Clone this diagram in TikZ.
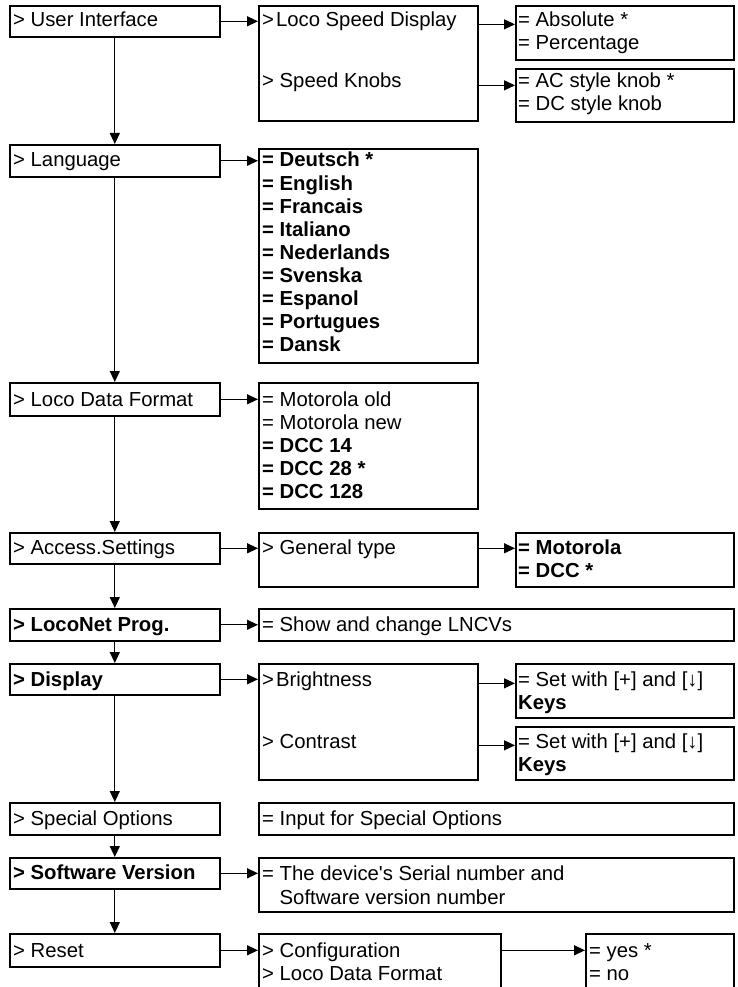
\documentclass[tikz,border=0pt]{standalone}
\usepackage{fontspec}
\setmainfont{Liberation Sans}
\usetikzlibrary{arrows.meta}
\tikzset{
  menu/.style={draw, rectangle, line width=1.6pt, anchor=north west, inner sep=0pt},
  item/.style={anchor=base west, inner sep=0pt, font=\fontsize{20.3}{23}\selectfont},
  bold/.style={font=\fontsize{20.3}{23}\selectfont\bfseries},
  goto/.style={line width=1.3pt, -{Triangle[length=11pt, width=10pt]}}
}
\begin{document}
\begin{tikzpicture}[x=1pt, y=-1pt]
\useasboundingbox (0,0) rectangle (738,987);
% main menu column
\node at (9,5) [menu, minimum width=210pt, minimum height=31pt] (ui) {};
\node at (9,144) [menu, minimum width=210pt, minimum height=32pt] (lang) {};
\node at (9,382) [menu, minimum width=210pt, minimum height=33pt] (ldf) {};
\node at (9,532) [menu, minimum width=210pt, minimum height=31pt] (acc) {};
\node at (9,608) [menu, minimum width=210pt, minimum height=32pt] (lnp) {};
\node at (9,663) [menu, minimum width=210pt, minimum height=31pt] (disp) {};
\node at (9,802) [menu, minimum width=210pt, minimum height=32pt] (spec) {};
\node at (9,857) [menu, minimum width=210pt, minimum height=31pt] (soft) {};
\node at (9,933) [menu, minimum width=210pt, minimum height=33pt] (reset) {};
% sub menus
\node at (258,5) [menu, minimum width=219pt, minimum height=115pt] (lsd) {};
\node at (258,148) [menu, minimum width=219pt, minimum height=214pt] (langlist) {};
\node at (258,382) [menu, minimum width=219pt, minimum height=126pt] (ldflist) {};
\node at (258,532) [menu, minimum width=219pt, minimum height=54pt] (gen) {};
\node at (258,608) [menu, minimum width=475pt, minimum height=32pt] (lncv) {};
\node at (258,663) [menu, minimum width=219pt, minimum height=116pt] (bright) {};
\node at (258,802) [menu, minimum width=475pt, minimum height=32pt] (specin) {};
\node at (258,857) [menu, minimum width=475pt, minimum height=54pt] (serial) {};
\node at (258,933) [menu, minimum width=242pt, minimum height=62pt] (conf) {};
% values
\node at (515,5) [menu, minimum width=218pt, minimum height=54pt] (speed) {};
\node at (515,68) [menu, minimum width=218pt, minimum height=53pt] (knob) {};
\node at (515,532) [menu, minimum width=218pt, minimum height=54pt] (mot) {};
\node at (515,663) [menu, minimum width=218pt, minimum height=54pt] (set1) {};
\node at (515,726) [menu, minimum width=218pt, minimum height=53pt] (set2) {};
\node at (585,933) [menu, minimum width=148pt, minimum height=62pt] (yesno) {};

% texts
\node at (13,27) [item] (tui) {> User Interface};
\node at (13,167) [item] (tlang) {> Language};
\node at (13,406) [item] (tldf) {> Loco Data Format};
\node at (13,554) [item] (tacc) {> Access.Settings};
\node at (13,631) [item, bold] (tlnp) {> LocoNet Prog.};
\node at (13,686) [item, bold] (tdisp) {> Display};
\node at (13,825) [item] (tspec) {> Special Options};
\node at (13,879) [item, bold] (tsoft) {> Software Version};
\node at (13,957) [item] (treset) {> Reset};

\node at (262,27) [item] (tlsd) {>\kern2pt Loco Speed Display};
\node at (262,88) [item] (tknobs) {> Speed Knobs};
\foreach \w [count=\i from 0] in {Deutsch *, English, Francais, Italiano, Nederlands, Svenska, Espanol, Portugues, Dansk}
  \node at (262,167+23.1*\i) [item, bold] (tl\i) {= \w};
\node at (262,406) [item] (tm0) {= Motorola old};
\node at (262,429) [item] (tm1) {= Motorola new};
\node at (262,452) [item, bold] (tm2) {= DCC 14};
\node at (262,475) [item, bold] (tm3) {= DCC 28 *};
\node at (262,498) [item, bold] (tm4) {= DCC 128};
\node at (262,554) [item] (tgen) {> General type};
\node at (262,631) [item] (tlncv) {= Show and change LNCVs};
\node at (262,686) [item] (tbri) {>\kern2pt Brightness};
\node at (262,748) [item] (tcon) {> Contrast};
\node at (262,825) [item] (tin) {= Input for Special Options};
\node at (262,880) [item] (tser1) {= The device\textquotesingle s Serial number and};
\node at (262,904) [item] (tser2) {\phantom{= }Software version number};
\node at (262,957) [item] (tconf) {> Configuration};
\node at (262,980) [item] (tcldf) {> Loco Data Format};

\node at (518,27) [item] (tabs) {= Absolute *};
\node at (518,50) [item] (tper) {= Percentage};
\node at (518,88) [item] (tac) {= AC style knob *};
\node at (518,111) [item] (tdc) {= DC style knob};
\node at (518,554) [item, bold] (tmot) {= Motorola};
\node at (518,577) [item, bold] (tdcc) {= DCC *};
\node at (518,686) [item] (tset1) {= Set with [+] and [↓]};
\node at (518,709) [item, bold] (tkey1) {Keys};
\node at (518,748) [item] (tset2) {= Set with [+] and [↓]};
\node at (518,771) [item, bold] (tkey2) {Keys};
\node at (589,957) [item] (tyes) {= yes *};
\node at (589,980) [item] (tno) {= no};

% main menu sequence
\foreach \a/\b in {ui/lang, lang/ldf, ldf/acc, acc/lnp, lnp/disp, disp/spec, spec/soft, soft/reset}
  \draw[goto] (\a.south) -- (\b.north);
% into sub menus
\draw[goto] (ui.east) -- (lsd.west |- ui.east);
\draw[goto] (lsd.east |- tlsd.mid) -- (speed.west |- tlsd.mid);
\draw[goto] (lsd.east |- tknobs.mid) -- (knob.west |- tknobs.mid);
\draw[goto] (lang.east) -- (langlist.west |- lang.east);
\draw[goto] (ldf.east) -- (ldflist.west |- ldf.east);
\draw[goto] (acc.east) -- (gen.west |- acc.east);
\draw[goto] (gen.east |- acc.east) -- (mot.west |- acc.east);
\draw[goto] (lnp.east) -- (lncv.west |- lnp.east);
\draw[goto] (disp.east) -- (bright.west |- disp.east);
\draw[goto] (bright.east |- tbri.mid) -- (set1.west |- tbri.mid);
\draw[goto] (bright.east |- tcon.mid) -- (set2.west |- tcon.mid);
\draw[goto] (soft.east) -- (serial.west |- soft.east);
\draw[goto] (reset.east) -- (conf.west |- reset.east);
\draw[goto] (conf.east |- reset.east) -- (yesno.west |- reset.east);
\end{tikzpicture}
\end{document}
